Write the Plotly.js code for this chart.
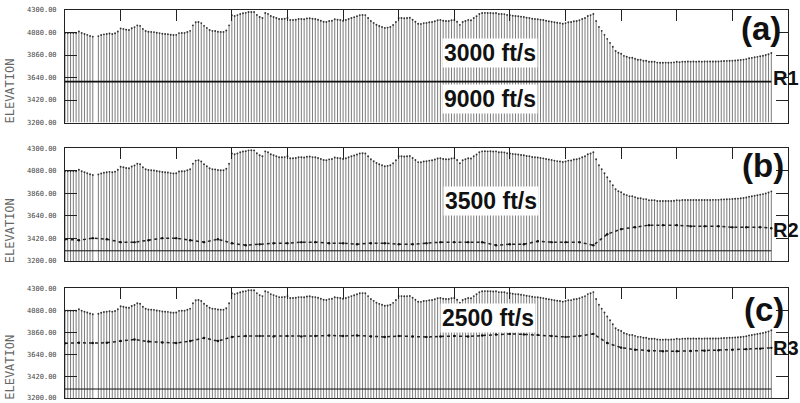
<!DOCTYPE html>
<html><head><meta charset="utf-8">
<script src="https://cdn.plot.ly/plotly-3.0.1.min.js"></script>
<style>html,body{margin:0;padding:0;background:#fff}</style>
</head><body><div id="chart" style="width:800px;height:403px"></div>
<script>
// Surface elevation at each trace (station index)
const surfaceElev = [
4075,4075,4075,4075,4075,4090,4076,4066,4057,4047,
4040,null,4045,4055,4062,4066,4070,4066,4072,4090,
4120,4115,4108,4105,4122,4133,4150,4145,4115,4095,
4088,4086,4084,4078,4074,4068,4066,4064,4058,4055,
4057,4074,4076,4076,4085,4096,4150,4180,4183,4172,
4145,4125,4105,4096,4094,4088,4086,4086,4100,4150,
4250,4242,4250,4261,4268,4272,4280,4281,4280,4252,
4232,4222,4270,4262,4242,4232,4222,4212,4212,4214,
4222,4203,4203,4205,4212,4212,4210,4218,4220,4214,
4212,4205,4195,4185,4183,4192,4195,4210,4205,4203,
4195,4203,4212,4222,4230,4240,4250,4252,4250,4222,
4193,4174,4156,4144,4135,4125,4128,4135,4154,4183,
4222,4222,4220,4222,4224,4205,4185,4165,4164,4172,
4174,4180,4183,4190,4200,4203,4195,4193,4193,4200,
4203,4185,4155,4183,4193,4203,4200,4222,4240,4261,
4270,4272,4270,4271,4268,4270,4262,4261,4260,4252,
4250,4245,4242,4240,4235,4232,4225,4222,4215,4212,
4210,4205,4202,4195,4190,4185,4180,4175,4172,4166,
4172,4180,4182,4190,4193,4200,4212,4222,4242,4250,
4262,4193,4135,4096,4057,4018,3979,3940,3900,3882,
3872,3852,3843,3833,3833,3823,3813,3813,3804,3804,
3794,3794,3794,3786,3785,3785,3786,3785,3786,3788,
3794,3790,3795,3795,3796,3795,3796,3795,3796,3795,
3796,3796,3796,3797,3797,3797,3800,3802,3803,3804,
3805,3807,3809,3812,3815,3820,3828,3832,3838,3842,
3848,3853,3860,3868,3880
];
const refStations = [0,5,10,15,20,25,30,35,40,45,50,55,60,65,70,75,80,85,90,95,100,105,110,115,120,125,130,135,140,145,150,155,160,165,170,175,180,185,190,195,200,205,210,215,220,225,230,235,240,245,250,254];
const r2Elev = [3413,3403,3423,3413,3384,3384,3403,3423,3423,3403,3384,3413,3374,3354,3364,3374,3374,3384,3384,3374,3374,3364,3374,3374,3364,3364,3374,3384,3384,3384,3384,3354,3364,3364,3393,3384,3384,3384,3354,3462,3511,3530,3550,3550,3550,3540,3540,3540,3530,3530,3530,3520];
const r3Elev = [3748,3754,3751,3754,3771,3787,3766,3756,3751,3771,3802,3771,3812,3822,3822,3817,3822,3817,3822,3827,3822,3827,3817,3812,3822,3817,3812,3817,3822,3817,3827,3838,3843,3838,3833,3822,3812,3822,3843,3751,3705,3685,3674,3669,3669,3672,3674,3679,3685,3690,3695,3703];
const lineEnds = [0, 254];
const r1Elev = 3600;
const baseElevB = 3300;
const baseElevC = 3290;
const datumElev = 3200;
const yTicks = [3200,3420,3640,3860,4080,4300];
const panelLabels = ['(a)','(b)','(c)'];
const refLabels = ['R1','R2','R3'];
const velLabelsA = ['3000 ft/s','9000 ft/s'];
const velLabelB = '3500 ft/s';
const velLabelC = '2500 ft/s';

const stations = surfaceElev.map((_, i) => i);

function stickTraces(xa, ya) {
  const xs = [], ys = [], mx = [], my = [];
  stations.forEach((s, i) => {
    const e = surfaceElev[i];
    if (e === null) return;
    xs.push(s, s, null); ys.push(datumElev, e, null);
    mx.push(s); my.push(e);
  });
  return [
    {type:'scatter', mode:'lines', x:xs, y:ys, xaxis:xa, yaxis:ya,
     line:{color:'#5a5a5a', width:0.8}, hoverinfo:'skip', showlegend:false},
    {type:'scatter', mode:'markers', x:mx, y:my, xaxis:xa, yaxis:ya,
     marker:{color:'#333', size:1.9}, hoverinfo:'skip', showlegend:false}
  ];
}
function flatLine(xa, ya, elev, w) {
  return {type:'scatter', mode:'lines', x:lineEnds, y:[elev, elev], xaxis:xa, yaxis:ya,
    line:{color:'#111', width:w}, hoverinfo:'skip', showlegend:false};
}
function refLine(xa, ya, elevs) {
  return {type:'scatter', mode:'lines+markers', x:refStations, y:elevs, xaxis:xa, yaxis:ya,
    line:{color:'#222', width:1.5, dash:'dot'}, marker:{color:'#111', size:2.4},
    hoverinfo:'skip', showlegend:false};
}

const data = [
  ...stickTraces('x','y'), flatLine('x','y', r1Elev, 1.6),
  ...stickTraces('x2','y2'), flatLine('x2','y2', baseElevB, 1), refLine('x2','y2', r2Elev),
  ...stickTraces('x3','y3'), flatLine('x3','y3', baseElevC, 1), refLine('x3','y3', r3Elev)
];

function xAx(anchor) {
  return {domain:[0,1], range:[0,260], anchor:anchor, side:'top', showline:true, mirror:true,
    linecolor:'#222', linewidth:1, ticks:'inside', ticklen:11, tickcolor:'#222', tickwidth:1,
    tick0:0, dtick:20, showticklabels:false, showgrid:false, zeroline:false};
}
function yAx(anchor, dom) {
  return {domain:dom, range:[3200,4300], anchor:anchor, tickvals:yTicks,
    ticktext:yTicks.map(v => v.toFixed(2)), ticks:'inside', ticklen:12, tickcolor:'#222',
    tickwidth:1, mirror:'ticks', showline:true, linecolor:'#222', linewidth:1,
    tickfont:{family:'DejaVu Sans Mono', size:7, color:'#444'}, ticklabelstandoff:6,
    showgrid:false, zeroline:false};
}

const big = {family:'Liberation Sans, Arial', size:33, color:'#111'};
const mid = {family:'Liberation Sans, Arial', size:23, color:'#111'};
const rf = {family:'Liberation Sans, Arial', size:20, color:'#111'};
const el = {family:'DejaVu Sans Mono', size:12, color:'#666'};

function ann(text, x, y, font, extra) {
  return Object.assign({text:text, x:x, y:y, xref:'paper', yref:'paper', showarrow:false,
    xanchor:'center', yanchor:'middle', font:font}, extra || {});
}
const boxed = {bgcolor:'#fff', borderpad:1};

const layout = {
  width:800, height:403, paper_bgcolor:'#fff', plot_bgcolor:'#fff',
  margin:{l:65, r:12, t:10, b:5},
  xaxis:xAx('y'), xaxis2:xAx('y2'), xaxis3:xAx('y3'),
  yaxis:yAx('x',[0.710,1]), yaxis2:yAx('x2',[0.353,0.6436]), yaxis3:yAx('x3',[0,0.2827]),
  annotations:[
    ann('<b>'+panelLabels[0]+'</b>', 0.963, 0.952, big),
    ann('<b>'+panelLabels[1]+'</b>', 0.965, 0.598, big),
    ann('<b>'+panelLabels[2]+'</b>', 0.967, 0.227, big),
    ann('<b>'+refLabels[0]+'</b>', 0.997, 0.825, rf),
    ann('<b>'+refLabels[1]+'</b>', 0.997, 0.433, rf),
    ann('<b>'+refLabels[2]+'</b>', 0.997, 0.129, rf),
    ann('<b>'+velLabelsA[0]+'</b>', 0.588, 0.889, mid, boxed),
    ann('<b>'+velLabelsA[1]+'</b>', 0.588, 0.771, mid, boxed),
    ann('<b>'+velLabelB+'</b>', 0.589, 0.508, mid, boxed),
    ann('<b>'+velLabelC+'</b>', 0.585, 0.206, mid, boxed),
    ann('ELEVATION', -0.076, 0.79, el, {textangle:-90}),
    ann('ELEVATION', -0.076, 0.43, el, {textangle:-90}),
    ann('ELEVATION', -0.076, 0.078, el, {textangle:-90})
  ]
};
Plotly.newPlot('chart', data, layout, {staticPlot:true, displayModeBar:false});
</script></body></html>
